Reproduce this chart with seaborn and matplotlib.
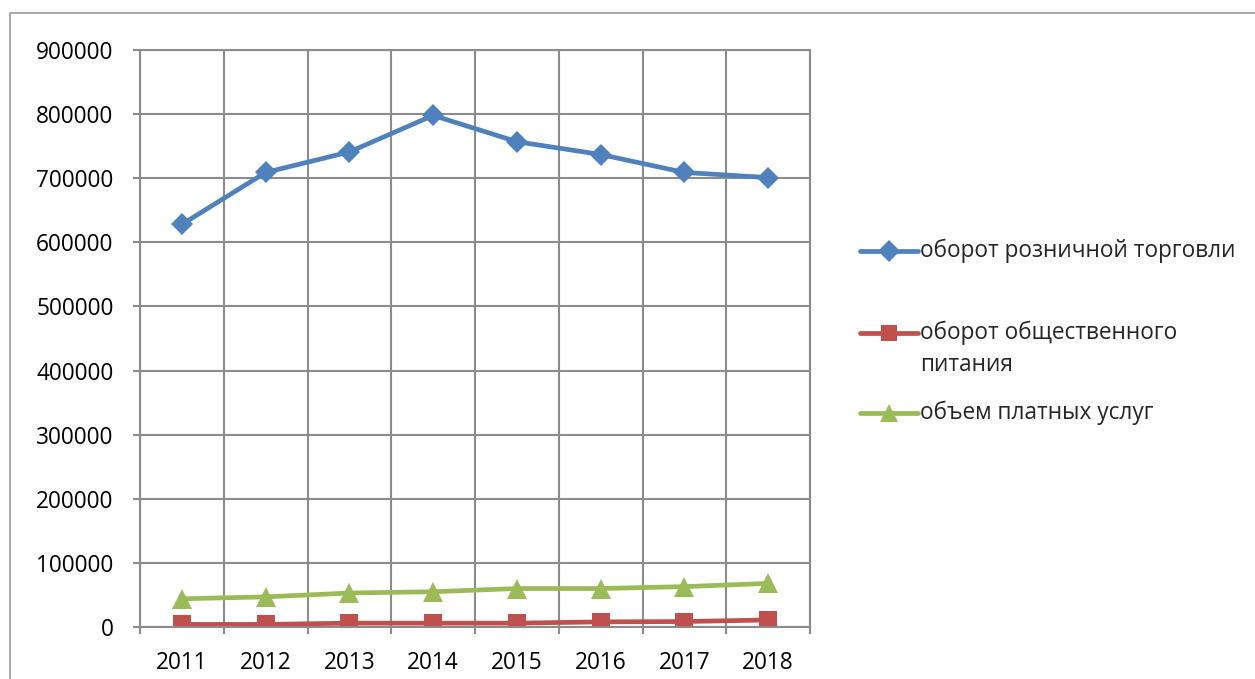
import numpy as np
import matplotlib.pyplot as plt
import pandas as pd
import seaborn as sns
from matplotlib.lines import Line2D

# ------------------------------- dados -------------------------------
years = ['2011', '2012', '2013', '2014', '2015', '2016', '2017', '2018']
retail = [628000, 709000, 741000, 798000, 757000, 737000, 709000, 701000]
catering = [4000, 4000, 6000, 6000, 6000, 8000, 8500, 11000]
services = [44000, 47000, 53000, 55000, 60000, 60000, 63000, 68000]

names = ['оборот розничной торговли', 'оборот общественного питания', 'объем платных услуг']
labels = ['оборот розничной торговли', 'оборот общественного\nпитания', 'объем платных услуг']
colors = ['#4F81BD', '#C0504D', '#9BBB59']
markers = ['D', 's', '^']
msizes = [11.5, 12.5, 14]

df = pd.DataFrame({
    'year': years * 3,
    'value': retail + catering + services,
    'series': [names[0]] * 8 + [names[1]] * 8 + [names[2]] * 8,
})

sns.set_style('white')
plt.rcParams['font.family'] = ['Open Sans', 'DejaVu Sans']

fig = plt.figure(figsize=(12.55, 6.79), dpi=100)
ax = fig.add_axes([140 / 1255, 1 - 627 / 679, 670 / 1255, 577 / 679])

grid_c = '#8C8C8C'
for i, name in enumerate(names):
    sub = df[df['series'] == name]
    sns.lineplot(data=sub, x='year', y='value', ax=ax, color=colors[i], marker=markers[i],
                 markersize=msizes[i], markeredgewidth=0, linewidth=3.4, legend=False, sort=False)

ax.set_xlim(-0.5, len(years) - 0.5)
ax.set_ylim(0, 900000)
ax.set_yticks(np.arange(0, 900001, 100000))
ax.set_yticklabels([str(v) for v in range(0, 900001, 100000)])
ax.set_xticks(range(len(years)))
ax.set_xticks(np.arange(-0.5, len(years), 1), minor=True)
ax.set_xlabel('')
ax.set_ylabel('')

ax.grid(True, axis='y', which='major', color=grid_c, lw=1.5)
ax.grid(True, axis='x', which='minor', color=grid_c, lw=1.5)
ax.set_axisbelow(True)
for s in ax.spines.values():
    s.set_color(grid_c)
    s.set_linewidth(1.5)

ax.tick_params(axis='y', which='major', left=True, length=5, width=1.5, color=grid_c,
               pad=14, labelsize=16.3, labelcolor='black')
ax.tick_params(axis='x', which='major', bottom=False, length=0, pad=17, labelsize=16.3,
               labelcolor='black')
ax.tick_params(axis='x', which='minor', bottom=True, length=5, width=1.5, color=grid_c)

# легенда справа
leg_y = [251, 349, 413]
for i in range(3):
    y = 1 - leg_y[i] / 679 if i != 1 else 1 - 333 / 679
    fig.add_artist(Line2D([860 / 1255, 918 / 1255], [y, y], transform=fig.transFigure,
                          color=colors[i], lw=3.4, solid_capstyle='round'))
    fig.add_artist(Line2D([889 / 1255], [y], transform=fig.transFigure, color=colors[i],
                          marker=markers[i], markersize=msizes[i] - 0.5, markeredgewidth=0, lw=0))
    fig.text(920 / 1255, 1 - leg_y[i] / 679, labels[i], fontsize=16.3, va='center', ha='left',
             linespacing=1.45)

# рамка области диаграммы
fig.add_artist(Line2D([10 / 1255, 10 / 1255, 1.0], [0, 1 - 13 / 679, 1 - 13 / 679],
                      transform=fig.transFigure, color='#9A9A9A', lw=1.2))

fig.savefig('out.png', dpi=100)
